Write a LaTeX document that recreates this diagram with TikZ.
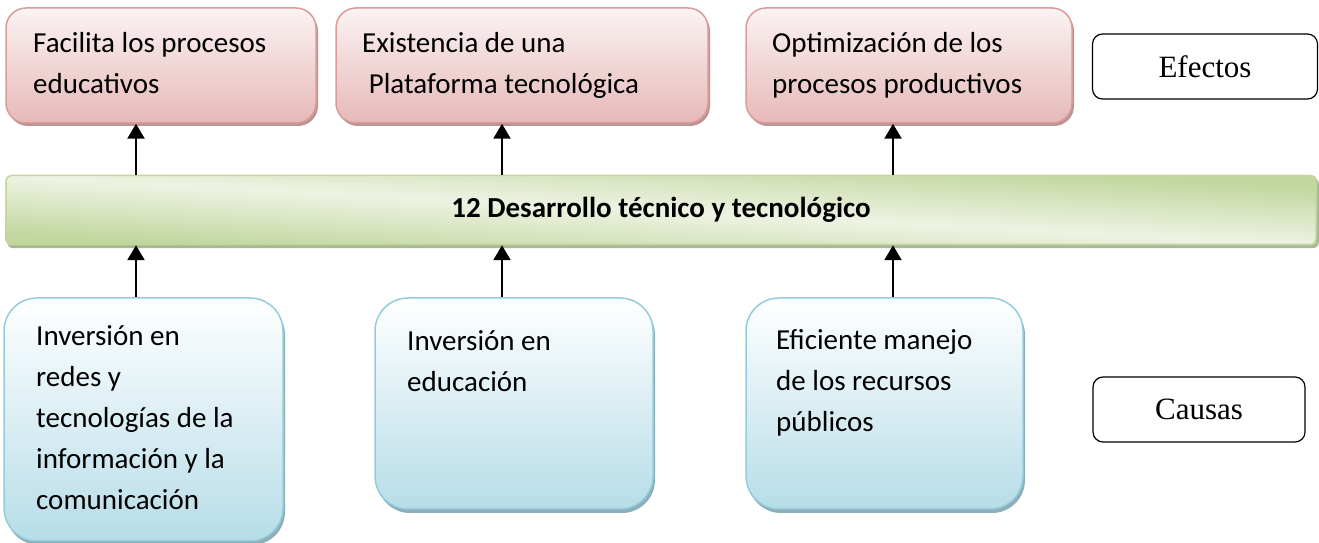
\documentclass[tikz,border=0pt]{standalone}
\usepackage{fontspec}
\setmainfont{Carlito}
\newfontfamily\timesf{Liberation Serif}
\usetikzlibrary{arrows.meta,shadows}
\definecolor{pinkT}{HTML}{FBF3F3}
\definecolor{pinkB}{HTML}{E6B9B8}
\definecolor{pinkD}{HTML}{DA9B9A}
\definecolor{pinkS}{HTML}{B89594}
\definecolor{greenK}{HTML}{C2D69E}
\definecolor{greenM}{HTML}{DAE6C4}
\definecolor{greenL}{HTML}{EDF3E2}
\definecolor{greenD}{HTML}{C3D69B}
\definecolor{greenS}{HTML}{A9B995}
\definecolor{blueT}{HTML}{FFFFFF}
\definecolor{blueB}{HTML}{B7DDE8}
\definecolor{blueD}{HTML}{93CDDD}
\definecolor{blueS}{HTML}{8FAFB8}
\pgfdeclareverticalshading{barshade}{100bp}{color(0bp)=(greenK); color(20bp)=(greenK); color(36bp)=(greenM); color(50bp)=(greenL); color(64bp)=(greenM); color(80bp)=(greenK); color(100bp)=(greenK)}
\pgfdeclarelayer{bg}
\pgfsetlayers{bg,main}
\begin{document}
\begin{tikzpicture}[x=1pt,y=1pt,
  effbox/.style={draw=pinkD, line width=1.5pt, rounded corners=20pt, top color=pinkT, bottom color=pinkB,
    drop shadow={shadow xshift=2pt, shadow yshift=-3pt, opacity=1, fill=pinkS}, inner sep=0pt},
  barbox/.style={draw=greenD, line width=1.5pt, rounded corners=6pt, inner sep=0pt},
  caubox/.style={draw=blueD, line width=1.5pt, rounded corners=33pt, top color=blueT, bottom color=blueB,
    drop shadow={shadow xshift=2pt, shadow yshift=-4pt, opacity=1, fill=blueS}, inner sep=0pt},
  tagbox/.style={draw=black, line width=1.2pt, rounded corners=10pt, fill=white, inner sep=0pt,
    font=\timesf\fontsize{31}{31}\selectfont},
  txt/.style={anchor=base west, inner sep=0pt, align=left, font=\fontsize{29}{41}\selectfont},
  arr/.style={line width=2.5pt, -{Triangle[length=15pt,width=17pt]}}
]
\useasboundingbox (0,0) rectangle (1319,543);
% effects
\node[effbox, minimum width=310pt, minimum height=115pt] (e1) at (161,477.5) {};
\node[effbox, minimum width=372pt, minimum height=115pt] (e2) at (522,477.5) {};
\node[effbox, minimum width=326pt, minimum height=115pt] (e3) at (909,477.5) {};
\node[tagbox, minimum width=225pt, minimum height=65pt] (ef) at (1205,476.5) {Efectos};
% bar
\node[barbox, minimum width=1310pt, minimum height=69pt, font=\bfseries\fontsize{29}{29}\selectfont] (bar) at (661,333) {12 Desarrollo técnico y tecnológico};
\begin{pgfonlayer}{bg}
  \fill[greenS, rounded corners=6pt] ([shift={(2,-3)}]bar.south west) rectangle ([shift={(2,-3)}]bar.north east);
  \begin{scope}
    \clip[rounded corners=6pt] (bar.south west) rectangle (bar.north east);
    \shade[shading=barshade, shading angle=-45,
      transform canvas={shift={(bar.south west)}, xscale=13.1, yscale=0.69}] (0,0) rectangle (100,100);
  \end{scope}
\end{pgfonlayer}
% causes
\node[caubox, minimum width=279pt, minimum height=243pt] (c1) at (143.5,123.5) {};
\node[caubox, minimum width=278pt, minimum height=211pt] (c2) at (514,139.5) {};
\node[caubox, minimum width=277pt, minimum height=211pt] (c3) at (884.5,139.5) {};
\node[tagbox, minimum width=212pt, minimum height=65pt] (ca) at (1199,133.5) {Causas};
% texts (anchored at the baseline of the last line)
\node[txt] (t1) at (33,449) {Facilita los procesos\\educativos};
\node[txt] (t2) at (362,449) {Existencia de una\\ \ Plataforma tecnológica};
\node[txt] (t3) at (772,449) {Optimización de los\\procesos productivos};
\node[txt] (t4) at (36,33) {Inversión en\\redes y\\tecnologías de la\\información y la\\comunicación};
\node[txt] (t5) at (407,151) {Inversión en\\educación};
\node[txt] (t6) at (776,111) {Eficiente manejo\\de los recursos\\públicos};
% arrows
\coordinate (x1) at (136,0);
\coordinate (x2) at (502,0);
\coordinate (x3) at (893,0);
\draw[arr] (x1 |- bar.north) -- (x1 |- e1.south);
\draw[arr] (x2 |- bar.north) -- (x2 |- e2.south);
\draw[arr] (x3 |- bar.north) -- (x3 |- e3.south);
\draw[arr] (x1 |- c1.north) -- (x1 |- bar.south);
\draw[arr] (x2 |- c2.north) -- (x2 |- bar.south);
\draw[arr] (x3 |- c3.north) -- (x3 |- bar.south);
\end{tikzpicture}
\end{document}
